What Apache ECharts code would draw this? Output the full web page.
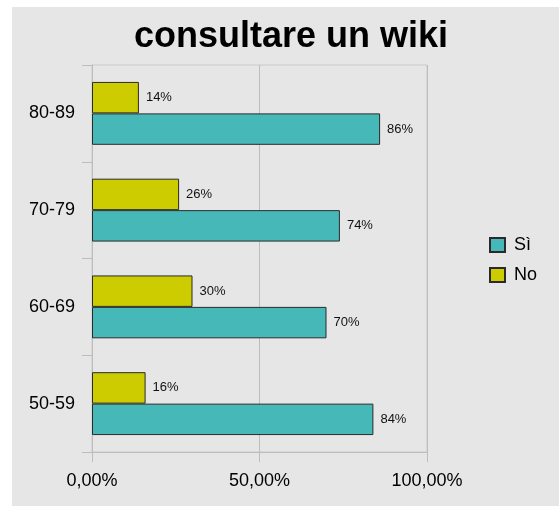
<!DOCTYPE html>
<html>
<head>
<meta charset="utf-8">
<script src="https://cdn.jsdelivr.net/npm/echarts@6/dist/echarts.min.js"></script>
<style>
  html, body { margin: 0; padding: 0; background: #ffffff; }
  #chart { width: 559px; height: 506px; }
</style>
</head>
<body>
<div id="chart"></div>
<script>
// Age groups, bottom to top
const categories = ['50-59', '60-69', '70-79', '80-89'];
// Share answering "Sì" / "No" per age group (%)
const siValues = [84, 70, 74, 86];
const noValues = [16, 30, 26, 14];
// Value axis ticks
const xTicks = [0, 50, 100];

const chart = echarts.init(document.getElementById('chart'));

const labelStyle = {
  show: true,
  position: 'right',
  distance: 7,
  color: '#111',
  fontFamily: 'Liberation Sans, Arial, sans-serif',
  fontSize: 13,
  formatter: p => p.value + '%'
};

chart.setOption({
  backgroundColor: '#ffffff',
  animation: false,
  graphic: [{
    type: 'rect',
    silent: true,
    z: -100,
    shape: { x: 12, y: 7, width: 547, height: 499 },
    style: { fill: '#e6e6e6' }
  }],
  title: {
    text: 'consultare un wiki',
    left: 286,
    textAlign: 'center',
    top: 14,
    textStyle: {
      fontFamily: 'Liberation Sans, Arial, sans-serif',
      fontWeight: 'bold',
      fontSize: 36,
      color: '#000'
    }
  },
  legend: {
    orient: 'vertical',
    left: 489,
    top: 236,
    padding: 0,
    itemWidth: 15,
    itemHeight: 14,
    itemGap: 12,
    icon: 'rect',
    data: ['Sì', 'No'],
    textStyle: {
      fontFamily: 'Liberation Sans, Arial, sans-serif',
      fontSize: 18,
      color: '#000',
      padding: [0, 0, 0, 4]
    }
  },
  grid: {
    left: 92,
    top: 65,
    width: 335,
    height: 387,
    show: true,
    backgroundColor: 'transparent',
    borderColor: '#cacaca',
    borderWidth: 1
  },
  xAxis: {
    type: 'value',
    min: xTicks[0],
    max: xTicks[xTicks.length - 1],
    interval: xTicks[1] - xTicks[0],
    axisLine: { show: true, lineStyle: { color: '#bdbdbd', width: 1 } },
    axisTick: { show: true, length: 10, lineStyle: { color: '#bdbdbd' } },
    splitLine: { show: true, lineStyle: { color: '#bdbdbd', width: 1 } },
    axisLabel: {
      margin: 20,
      color: '#000',
      fontFamily: 'Liberation Sans, Arial, sans-serif',
      fontSize: 18,
      formatter: v => v.toFixed(2).replace('.', ',') + '%'
    }
  },
  yAxis: {
    type: 'category',
    data: categories,
    axisLine: { show: true, lineStyle: { color: '#bdbdbd', width: 1 } },
    axisTick: { show: true, length: 10, lineStyle: { color: '#bdbdbd' } },
    axisLabel: {
      margin: 17,
      color: '#000',
      fontFamily: 'Liberation Sans, Arial, sans-serif',
      fontSize: 18
    }
  },
  series: [
    // "No" is listed first so it sits above "Sì" within each age group
    {
      name: 'No',
      type: 'bar',
      data: noValues,
      barGap: '0%',
      barCategoryGap: '35%',
      itemStyle: { color: '#cccc00', borderColor: '#2a2a2a', borderWidth: 1 },
      label: labelStyle
    },
    {
      name: 'Sì',
      type: 'bar',
      data: siValues,
      barGap: '0%',
      barCategoryGap: '35%',
      itemStyle: { color: '#47b8b8', borderColor: '#2a2a2a', borderWidth: 1 },
      label: labelStyle
    }
  ]
});
</script>
</body>
</html>
